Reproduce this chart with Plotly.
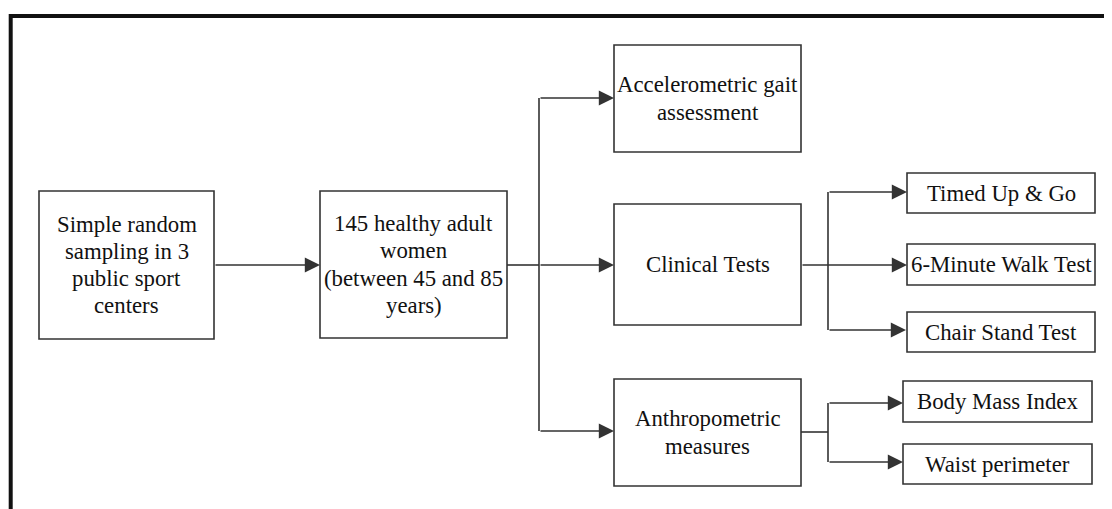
import plotly.graph_objects as go

# ---- content ----
box_lines = [
    ["Simple random", "sampling in 3", "public sport", "centers"],
    ["145 healthy adult", "women", "(between 45 and 85", "years)"],
    ["Accelerometric gait", "assessment"],
    ["Clinical Tests"],
    ["Anthropometric", "measures"],
    ["Timed Up &amp; Go"],
    ["6-Minute Walk Test"],
    ["Chair Stand Test"],
    ["Body Mass Index"],
    ["Waist perimeter"],
]

# ---- layout geometry (pixels of the page, y downward) ----
box_x0 = [39, 320, 614, 614, 614, 907, 907, 907, 903, 903]
box_x1 = [214, 507, 801, 801, 801, 1095, 1095, 1095, 1092, 1092]
box_y0 = [191, 191, 45, 204, 379, 173, 244, 312, 381, 444]
box_y1 = [339, 338, 152, 325, 486, 213, 285, 352, 422, 484]

# plain connector segments (x0, y0, x1, y1)
segments = [
    (507, 265, 539, 265),
    (539, 98, 539, 431),
    (828, 192, 828, 330),
    (801, 432, 828, 432),
    (828, 403, 828, 462),
]
# arrows (tail x, tail y, tip x, tip y)
arrows = [
    (214, 265, 320, 265),
    (539, 98, 614, 98),
    (539, 265, 614, 265),
    (539, 431, 614, 431),
    (801, 265, 907, 265),
    (828, 192, 907, 192),
    (828, 330, 906, 330),
    (828, 403, 903, 403),
    (828, 462, 903, 462),
]

W, H = 1112, 509
BODY = 8  # default page margin around the plot div
LINE = "#333333"
LINE_GAP = 27.3
FONT = dict(family="Liberation Serif, Times New Roman, serif", size=22.8, color="#111111")

fig = go.Figure()
fig.add_trace(go.Scatter(x=[BODY, W], y=[BODY, H], mode="markers",
                         marker=dict(opacity=0), hoverinfo="skip", showlegend=False))

shapes = []
shapes.append(dict(type="rect", xref="x", yref="y", x0=10.7, y0=16, x1=W + 20, y1=H + 20,
                   line=dict(color="#111111", width=4), fillcolor="rgba(0,0,0,0)", layer="below"))
for x0, x1, y0, y1 in zip(box_x0, box_x1, box_y0, box_y1):
    shapes.append(dict(type="rect", xref="x", yref="y", x0=x0, y0=y0, x1=x1, y1=y1,
                       line=dict(color=LINE, width=1.6), fillcolor="white"))
for (x0, y0, x1, y1) in segments:
    shapes.append(dict(type="line", xref="x", yref="y", x0=x0, y0=y0, x1=x1, y1=y1,
                       line=dict(color=LINE, width=1.6)))

annotations = []
for lines, x0, x1, y0, y1 in zip(box_lines, box_x0, box_x1, box_y0, box_y1):
    cx, cy = (x0 + x1) / 2, (y0 + y1) / 2
    n = len(lines)
    for i, ln in enumerate(lines):
        annotations.append(dict(x=cx, y=cy + (i - (n - 1) / 2) * LINE_GAP,
                                xref="x", yref="y", text=ln, showarrow=False, font=FONT,
                                xanchor="center", yanchor="middle", align="center"))
for (tx, ty, hx, hy) in arrows:
    annotations.append(dict(x=hx, y=hy, ax=tx, ay=ty, xref="x", yref="y",
                            axref="x", ayref="y", text="", showarrow=True,
                            arrowhead=2, arrowsize=1.9, arrowwidth=1.6,
                            arrowcolor=LINE, standoff=0, startstandoff=0))

fig.update_layout(
    width=W - BODY, height=H - BODY,
    margin=dict(l=0, r=0, t=0, b=0),
    paper_bgcolor="white", plot_bgcolor="white",
    xaxis=dict(range=[BODY, W], visible=False, fixedrange=True),
    yaxis=dict(range=[H, BODY], visible=False, fixedrange=True),
    shapes=shapes, annotations=annotations,
    showlegend=False,
)
fig.write_html("out.html", config={"displayModeBar": False})
